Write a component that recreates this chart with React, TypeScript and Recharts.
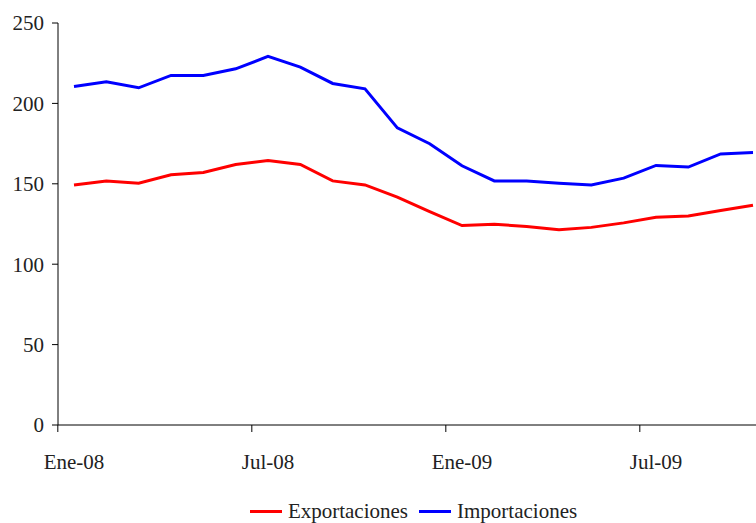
import React from 'react';
import { LineChart, Line, XAxis, YAxis, Legend } from 'recharts';

const months = [
  'Ene-08', 'Feb-08', 'Mar-08', 'Abr-08', 'May-08', 'Jun-08', 'Jul-08', 'Ago-08', 'Sep-08', 'Oct-08', 'Nov-08', 'Dic-08',
  'Ene-09', 'Feb-09', 'Mar-09', 'Abr-09', 'May-09', 'Jun-09', 'Jul-09', 'Ago-09', 'Sep-09', 'Oct-09',
];
const exportaciones = [149.3, 151.8, 150.4, 155.6, 157, 162, 164.5, 162, 151.8, 149.3, 141.7, 132.7,
  124, 124.9, 123.4, 121.5, 122.9, 125.7, 129.2, 130, 133.4, 136.7];
const importaciones = [210.5, 213.4, 209.7, 217.4, 217.4, 221.5, 229.2, 222.6, 212.4, 209.1, 184.8, 174.9,
  161.2, 151.8, 151.8, 150.4, 149.3, 153.5, 161.4, 160.4, 168.6, 169.4];
const yTicks = [0, 50, 100, 150, 200, 250];
const labelEvery = 6;

const data = months.map((m, i) => ({ mes: m, Exportaciones: exportaciones[i], Importaciones: importaciones[i] }));

const FONT = '"Liberation Serif", "Times New Roman", serif';
const STEP = 32.35;

const MonthTick = (props: any) => {
  const { x, y, payload, index } = props;
  if (index % labelEvery !== 0) return null;
  const tx = x - STEP / 2;
  return (
    <g>
      <line x1={tx} y1={y} x2={tx} y2={y + 7} stroke="#000" strokeWidth={1} />
      <text x={x} y={y + 44} textAnchor="middle" fill="#222" fontSize={21} fontFamily={FONT}>
        {payload.value}
      </text>
    </g>
  );
};

const LegendContent = () => (
  <div style={{ display: 'flex', justifyContent: 'center', alignItems: 'center', fontFamily: FONT, fontSize: 21, color: '#222', lineHeight: '24px' }}>
    {[
      { name: 'Exportaciones', color: '#ff0000' },
      { name: 'Importaciones', color: '#0000ff' },
    ].map((it, i) => (
      <div key={it.name} style={{ display: 'flex', alignItems: 'center', marginLeft: i ? 11 : 0 }}>
        <span style={{ display: 'inline-block', width: 32, height: 3, background: it.color, marginRight: 6 }} />
        <span>{it.name}</span>
      </div>
    ))}
  </div>
);

const App: React.FC = () => {
  return (
    <div style={{ position: 'fixed', left: 0, top: 0, width: 756, height: 523, overflow: 'hidden', background: '#fff' }}>
      <LineChart width={780} height={523} data={data} margin={{ top: 23, right: 11, left: 0, bottom: 0 }}>
        <XAxis
          dataKey="mes"
          interval={0}
          padding={{ left: 16, right: 16 }}
          tickLine={false}
          tickSize={0}
          tickMargin={0}
          height={68}
          axisLine={{ stroke: '#000', strokeWidth: 1 }}
          tick={<MonthTick />}
        />
        <YAxis
          domain={[0, 250]}
          ticks={yTicks}
          width={58}
          tickSize={6}
          tickMargin={8}
          axisLine={{ stroke: '#000', strokeWidth: 1 }}
          tickLine={{ stroke: '#000', strokeWidth: 1 }}
          tick={{ fill: '#222', fontSize: 21, fontFamily: FONT }}
        />
        <Legend
          verticalAlign="bottom"
          height={30}
          content={<LegendContent />}
          wrapperStyle={{ left: 58, width: 711, top: 499 }}
        />
        <Line type="linear" dataKey="Exportaciones" stroke="#ff0000" strokeWidth={3} dot={false} isAnimationActive={false} />
        <Line type="linear" dataKey="Importaciones" stroke="#0000ff" strokeWidth={3} dot={false} isAnimationActive={false} />
      </LineChart>
    </div>
  );
};

export default App;
